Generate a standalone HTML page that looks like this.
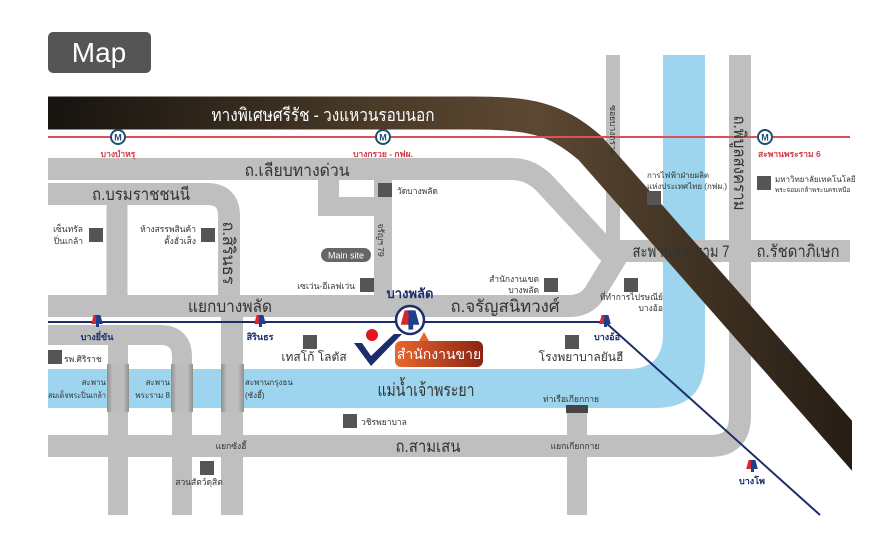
<!DOCTYPE html>
<html><head><meta charset="utf-8"><style>
html,body{margin:0;padding:0;background:#fff;width:890px;height:550px;overflow:hidden}
svg{display:block}
text{font-family:"Liberation Sans","DejaVu Sans",sans-serif}
</style></head><body>
<svg width="890" height="550" viewBox="0 0 890 550" xmlns="http://www.w3.org/2000/svg">
<defs>
<linearGradient id="exp" gradientUnits="userSpaceOnUse" x1="48" y1="0" x2="860" y2="0">
<stop offset="0" stop-color="#17130f"/><stop offset="0.4" stop-color="#4a3a28"/><stop offset="0.6" stop-color="#5c4832"/><stop offset="1" stop-color="#241c14"/>
</linearGradient>
<linearGradient id="br" x1="0" y1="0" x2="1" y2="0">
<stop offset="0" stop-color="#8f8f8f"/><stop offset="0.25" stop-color="#bdbdbd"/><stop offset="0.75" stop-color="#bdbdbd"/><stop offset="1" stop-color="#8f8f8f"/>
</linearGradient>
<linearGradient id="og" x1="0" y1="0" x2="1" y2="0">
<stop offset="0" stop-color="#e8672f"/><stop offset="1" stop-color="#8c2412"/>
</linearGradient>
<clipPath id="cl"><rect x="0" y="0" width="852" height="550"/></clipPath>
<g id="st"><rect x="-5" y="-6" width="5" height="9" fill="#d8262e" transform="skewX(-15)"/><rect x="0" y="-6" width="5" height="9" fill="#1d3f8f" transform="skewX(15)"/><rect x="-1" y="-2" width="3" height="8" fill="#1d3f8f"/></g>
<g id="sq"><rect width="14" height="14" fill="#555"/></g>
</defs>

<!-- Map badge -->
<rect x="48" y="32" width="103" height="41" rx="5" fill="#555"/>
<text x="99" y="62" font-size="28" fill="#fff" text-anchor="middle">Map</text>

<!-- river -->
<path d="M48,369 L628,369 Q663,369 663,334 L663,55 L705,55 L705,358 Q705,408 655,408 L48,408 Z" fill="#9ed5ee"/>

<!-- roads -->
<g fill="none" stroke="#bfbfbf" stroke-linejoin="round">
<path d="M48,169 L512,169 Q532,169 547,186 L607,251 L850,251" stroke-width="22"/>
<path d="M48,306 L570,306 Q585,306 594,294 L620,251" stroke-width="22"/>
<path d="M613,55 L613,251" stroke-width="14"/>
<path d="M740,55 L740,416 Q740,446 710,446 L48,446" stroke-width="22"/>
<path d="M48,194 L207,194 Q229,194 229,216 L229,300" stroke-width="22"/>
<path d="M117,194 L117,300" stroke-width="21"/>
<path d="M48,335 L160,335 Q182,335 182,357 L182,515" stroke-width="20"/>
<path d="M118,335 L118,515" stroke-width="20"/>
<path d="M232,310 L232,515" stroke-width="22"/>
<path d="M577,405 L577,515" stroke-width="20"/>
<path d="M383,180 L383,300" stroke-width="18"/>
</g>
<rect x="318" y="178" width="21" height="38" fill="#bfbfbf"/>
<rect x="318" y="197" width="70" height="19" fill="#bfbfbf"/>
<!-- bridges -->
<rect x="107" y="364" width="22" height="48" fill="url(#br)"/>
<rect x="171" y="364" width="22" height="48" fill="url(#br)"/>
<rect x="221" y="364" width="23" height="48" fill="url(#br)"/>
<rect x="566" y="405" width="22" height="8" fill="#444"/>

<!-- expressway -->
<g clip-path="url(#cl)">
<path d="M48,113 L470,113 C530,113 555,118 590,148 L920,523" fill="none" stroke="url(#exp)" stroke-width="33"/>
</g>
<text x="323" y="121" font-size="18" fill="#fff" text-anchor="middle" textLength="223" lengthAdjust="spacingAndGlyphs">ทางพิเศษศรีรัช - วงแหวนรอบนอก</text>

<!-- red line -->
<line x1="48" y1="137" x2="850" y2="137" stroke="#d9505a" stroke-width="2"/>
<g font-size="8.5" font-weight="bold" fill="#d23a44">
<circle cx="118" cy="137" r="7" fill="#fff" stroke="#1f4e6e" stroke-width="2"/><text x="118" y="140.5" font-size="9" fill="#1f4e6e" text-anchor="middle">M</text>
<circle cx="383" cy="137" r="7" fill="#fff" stroke="#1f4e6e" stroke-width="2"/><text x="383" y="140.5" font-size="9" fill="#1f4e6e" text-anchor="middle">M</text>
<circle cx="765" cy="137" r="7" fill="#fff" stroke="#1f4e6e" stroke-width="2"/><text x="765" y="140.5" font-size="9" fill="#1f4e6e" text-anchor="middle">M</text>
<text x="118" y="157" text-anchor="middle">บางบำหรุ</text>
<text x="383" y="157" text-anchor="middle">บางกรวย - กฟผ.</text>
<text x="758" y="157">สะพานพระราม 6</text>
</g>

<!-- road labels -->
<g font-size="17" fill="#333" lengthAdjust="spacingAndGlyphs">
<text x="297" y="176" text-anchor="middle" textLength="105" lengthAdjust="spacingAndGlyphs">ถ.เลียบทางด่วน</text>
<text x="141" y="200" text-anchor="middle" textLength="98" lengthAdjust="spacingAndGlyphs">ถ.บรมราชชนนี</text>
<text x="230" y="312" text-anchor="middle" textLength="84" lengthAdjust="spacingAndGlyphs">แยกบางพลัด</text>
<text x="505" y="312" text-anchor="middle" textLength="109" lengthAdjust="spacingAndGlyphs">ถ.จรัญสนิทวงศ์</text>
<text x="681" y="257" text-anchor="middle" textLength="97" lengthAdjust="spacingAndGlyphs">สะพานพระราม 7</text>
<text x="798" y="257" text-anchor="middle" textLength="83" lengthAdjust="spacingAndGlyphs">ถ.รัชดาภิเษก</text>
<text x="426" y="396" text-anchor="middle" font-size="18" textLength="97" lengthAdjust="spacingAndGlyphs">แม่น้ำเจ้าพระยา</text>
<text x="428" y="452" text-anchor="middle" textLength="65" lengthAdjust="spacingAndGlyphs">ถ.สามเสน</text>
<text transform="translate(223,253) rotate(90)" text-anchor="middle" textLength="63" lengthAdjust="spacingAndGlyphs">ถ.สิรินธร</text>
<text transform="translate(734,163) rotate(90)" text-anchor="middle" textLength="95" lengthAdjust="spacingAndGlyphs">ถ.พิบูลสงคราม</text>
</g>
<g font-size="8.5" fill="#333">
<text transform="translate(378,240) rotate(90)" text-anchor="middle">จรัญฯ 79</text>
<text transform="translate(610,130) rotate(90)" text-anchor="middle">ซอยบางกรวย</text>
<text x="231" y="449" text-anchor="middle">แยกซังฮี้</text>
<text x="575" y="449" text-anchor="middle">แยกเกียกกาย</text>
</g>

<!-- Main site -->
<rect x="321" y="248" width="50" height="14" rx="7" fill="#666"/>
<text x="346" y="258.5" font-size="9" fill="#fff" text-anchor="middle">Main site</text>

<!-- landmarks -->
<g font-size="8.5" fill="#333">
<use href="#sq" x="378" y="183"/><text x="397" y="194">วัดบางพลัด</text>
<use href="#sq" x="89" y="228"/><text x="83" y="232" text-anchor="end">เซ็นทรัล</text><text x="83" y="244" text-anchor="end">ปิ่นเกล้า</text>
<use href="#sq" x="201" y="228"/><text x="196" y="232" text-anchor="end">ห้างสรรพสินค้า</text><text x="196" y="244" text-anchor="end">ตั้งฮั่วเส็ง</text>
<use href="#sq" x="360" y="278"/><text x="355" y="289" text-anchor="end">เซเว่น-อีเลฟเว่น</text>
<use href="#sq" x="544" y="278"/><text x="539" y="282" text-anchor="end">สำนักงานเขต</text><text x="539" y="293" text-anchor="end">บางพลัด</text>
<use href="#sq" x="624" y="278"/><text x="663" y="300" text-anchor="end">ที่ทำการไปรษณีย์</text><text x="663" y="311" text-anchor="end">บางอ้อ</text>
<text x="647" y="178" font-size="8">การไฟฟ้าฝ่ายผลิต</text><text x="647" y="189" font-size="8">แห่งประเทศไทย (กฟผ.)</text><use href="#sq" x="647" y="191"/>
<use href="#sq" x="757" y="176"/><text x="775" y="182" font-size="8">มหาวิทยาลัยเทคโนโลยี</text><text x="775" y="192" font-size="6.5">พระจอมเกล้าพระนครเหนือ</text>
<use href="#sq" x="48" y="350"/><text x="64" y="362">รพ.ศิริราช</text>
<use href="#sq" x="303" y="335"/><text x="314" y="361" text-anchor="middle" font-size="12">เทสโก้ โลตัส</text>
<use href="#sq" x="565" y="335"/><text x="581" y="361" text-anchor="middle" font-size="12">โรงพยาบาลยันฮี</text>
<use href="#sq" x="343" y="414"/><text x="361" y="425">วชิรพยาบาล</text>
<use href="#sq" x="200" y="461"/><text x="199" y="485" text-anchor="middle">สวนสัตว์ดุสิต</text>
<text x="571" y="402" text-anchor="middle">ท่าเรือเกียกกาย</text>
<text x="106" y="385" text-anchor="end" font-size="8">สะพาน</text><text x="106" y="398" text-anchor="end" font-size="8" textLength="58" lengthAdjust="spacingAndGlyphs">สมเด็จพระปิ่นเกล้า</text>
<text x="170" y="385" text-anchor="end" font-size="8">สะพาน</text><text x="170" y="398" text-anchor="end" font-size="8">พระราม 8</text>
<text x="245" y="385" font-size="8">สะพานกรุงธน</text><text x="245" y="398" font-size="8">(ซังฮี้)</text>
</g>

<!-- MRT blue line -->
<path d="M48,322 L605,322 L820,515" fill="none" stroke="#1d2c6b" stroke-width="2"/>
<use href="#st" x="97" y="321"/>
<use href="#st" x="260" y="321"/>
<use href="#st" x="605" y="321"/>
<use href="#st" x="752" y="466"/>
<circle cx="410" cy="320" r="14" fill="#fff" stroke="#1d2c6b" stroke-width="2.5"/>
<g transform="translate(410,320) scale(1.6)"><use href="#st"/></g>
<g font-size="9" font-weight="bold" fill="#1d2c6b">
<text x="97" y="340" text-anchor="middle">บางยี่ขัน</text>
<text x="260" y="340" text-anchor="middle">สิรินธร</text>
<text x="607" y="340" text-anchor="middle">บางอ้อ</text>
<text x="752" y="484" text-anchor="middle">บางโพ</text>
<text x="410" y="298" text-anchor="middle" font-size="13">บางพลัด</text>
</g>

<!-- logo + sales office -->
<circle cx="372" cy="335" r="6" fill="#e3161e"/>
<path d="M354,343 L362,343 L371,356 L394,334 L402,334 L371,366 Z" fill="#1d2c6b"/>
<path d="M418,343 L424,332 L430,343 Z" fill="#e3662f"/>
<rect x="395" y="341" width="88" height="26" rx="6" fill="url(#og)"/>
<text x="439" y="359" font-size="14" fill="#fff" text-anchor="middle">สำนักงานขาย</text>
</svg>
</body></html>
